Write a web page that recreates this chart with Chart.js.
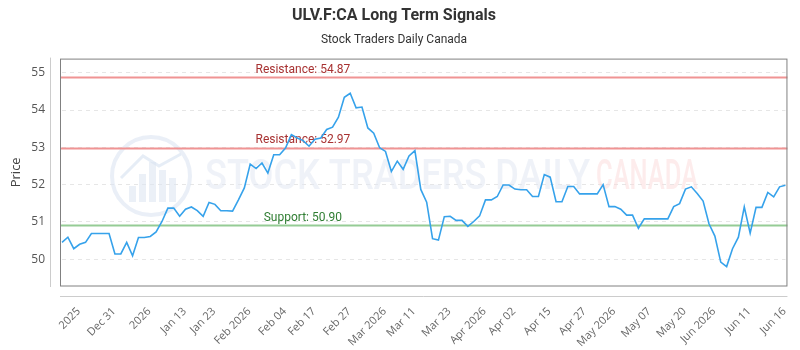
<!DOCTYPE html>
<html>
<head>
<meta charset="utf-8">
<script src="https://cdn.jsdelivr.net/npm/chart.js@4.4.1/dist/chart.umd.min.js"></script>
<style>
  html, body { margin: 0; padding: 0; background: #ffffff; }
  #box { width: 800px; height: 350px; }
</style>
</head>
<body>
<div id="box"><canvas id="grafico"></canvas></div>
<script>
// Prix de clôture (ULV.F:CA)
const precos = [
  50.45, 50.59, 50.28, 50.40, 50.45, 50.69, 50.69, 50.69, 50.69, 50.14,
  50.14, 50.45, 50.09, 50.58, 50.58, 50.61, 50.73, 51.01, 51.37, 51.37,
  51.15, 51.34, 51.40, 51.30, 51.15, 51.52, 51.47, 51.30, 51.30, 51.29,
  51.59, 51.91, 52.55, 52.43, 52.58, 52.31, 52.80, 52.80, 52.98, 53.34,
  53.25, 53.18, 53.03, 53.22, 53.25, 53.48, 53.54, 53.81, 54.34, 54.45,
  54.06, 54.08, 53.52, 53.38, 52.99, 52.89, 52.35, 52.63, 52.41, 52.77,
  52.91, 51.87, 51.53, 50.55, 50.51, 51.14, 51.15, 51.04, 51.04, 50.88,
  51.01, 51.16, 51.59, 51.59, 51.68, 51.99, 51.99, 51.88, 51.86, 51.86,
  51.68, 51.68, 52.27, 52.20, 51.54, 51.54, 51.95, 51.95, 51.75, 51.75,
  51.75, 51.75, 52.00, 51.41, 51.41, 51.34, 51.18, 51.18, 50.83, 51.08,
  51.08, 51.08, 51.08, 51.08, 51.41, 51.49, 51.88, 51.94, 51.76, 51.56,
  50.95, 50.62, 49.92, 49.80, 50.28, 50.59, 51.40, 50.70, 51.39, 51.39,
  51.79, 51.67, 51.94, 51.98
];

// Rótulos do eixo X e o ponto a que cada um pertence
const rotulosX = ["2025", "Dec 31", "2026", "Jan 13", "Jan 23", "Feb 2026", "Feb 04", "Feb 17",
  "Feb 27", "Mar 2026", "Mar 11", "Mar 23", "Apr 2026", "Apr 02", "Apr 15", "Apr 27",
  "May 2026", "May 07", "May 20", "Jun 2026", "Jun 11", "Jun 16"];
const pontosX = [2, 8, 14, 20, 25, 31, 37, 42, 48, 54, 59, 65, 71, 76, 82, 88, 93, 99, 105, 110, 116, 122];

// Eixo Y
const ticksY = [50, 51, 52, 53, 54, 55];
const minY = 49.28;
const maxY = 55.38;

// Níveis de suporte / resistência
const niveis = [54.87, 52.97, 50.90];
const nomesNiveis = ["Resistance", "Resistance", "Support"];

// Categorias: uma por ponto, com o rótulo onde existe um
const categorias = precos.map(() => "");
pontosX.forEach((p, i) => { categorias[p] = rotulosX[i]; });

const corNivel = (nome) => nome === "Support"
  ? { linha: "#95cc95", texto: "#2f7d32" }
  : { linha: "#f09494", texto: "#a83232" };

// Marca d'água + caixa do gráfico
const fundoPlugin = {
  id: "fundo",
  beforeDatasetsDraw(chart) {
    const { ctx, chartArea: a } = chart;
    ctx.save();
    // logo
    const cx = 151, cy = 176, r = 39;
    ctx.strokeStyle = "rgba(220,229,242,0.6)";
    ctx.lineWidth = 4;
    ctx.beginPath(); ctx.arc(cx, cy, r, 0, Math.PI * 2); ctx.stroke();
    ctx.fillStyle = "rgba(222,230,242,0.6)";
    [[-22, 10], [-12, -2], [-2, -14], [8, -6], [18, 2]].forEach(([dx, h]) => {
      ctx.fillRect(cx + dx, cy + h, 7, 26 - h);
    });
    ctx.strokeStyle = "rgba(220,229,242,0.7)";
    ctx.lineWidth = 3;
    ctx.beginPath();
    ctx.moveTo(cx - 30, cy + 2); ctx.lineTo(cx - 8, cy - 20); ctx.lineTo(cx + 8, cy - 10); ctx.lineTo(cx + 30, cy - 22);
    ctx.stroke();
    // texto
    ctx.font = "500 42px Roboto";
    ctx.textBaseline = "middle";
    const t1 = "STOCK TRADERS DAILY", t2 = "CANADA";
    const w1 = ctx.measureText(t1).width, w2 = ctx.measureText(t2).width;
    ctx.save();
    ctx.translate(205, 178); ctx.scale(385 / w1, 1);
    ctx.fillStyle = "rgba(225,232,243,0.55)";
    ctx.fillText(t1, 0, 0);
    ctx.restore();
    ctx.save();
    ctx.translate(596, 178); ctx.scale(102 / w2, 1);
    ctx.fillStyle = "rgba(252,218,218,0.5)";
    ctx.fillText(t2, 0, 0);
    ctx.restore();

    // linhas de suporte / resistência
    const y = chart.scales.y;
    niveis.forEach((v, i) => {
      const py = y.getPixelForValue(v);
      const c = corNivel(nomesNiveis[i]);
      ctx.strokeStyle = c.linha;
      ctx.lineWidth = 2;
      ctx.beginPath(); ctx.moveTo(a.left - 2, py); ctx.lineTo(a.right + 2, py); ctx.stroke();
      ctx.fillStyle = c.texto;
      ctx.font = "12px Roboto";
      ctx.textAlign = "center";
      ctx.textBaseline = "bottom";
      ctx.fillText(nomesNiveis[i] + ": " + v.toFixed(2), a.left + a.width * 0.333, py - 2);
    });

    // caixa e linhas dos eixos
    ctx.strokeStyle = "#808080";
    ctx.lineWidth = 1;
    ctx.strokeRect(a.left - 1.5, a.top + 0.5, a.width + 3, a.bottom - a.top - 0.5);
    ctx.strokeStyle = "#cccccc";
    ctx.beginPath();
    ctx.moveTo(a.left - 11.5, a.top - 1); ctx.lineTo(a.left - 11.5, a.bottom + 1);
    ctx.moveTo(a.left - 2, a.bottom + 10.5); ctx.lineTo(a.right + 2, a.bottom + 10.5);
    ctx.stroke();
    ctx.restore();
  }
};

const config = {
  type: "line",
  data: {
    labels: categorias,
    datasets: [
      {
        label: "Price",
        data: precos,
        borderColor: "#36a2eb",
        borderWidth: 1.6,
        pointRadius: 0,
        tension: 0,
        fill: false,
      },
    ],
  },
  options: {
    responsive: true,
    maintainAspectRatio: false,
    animation: false,
    layout: { padding: { left: 0, right: 12, top: 0, bottom: 0 } },
    plugins: {
      legend: { display: false },
      tooltip: { enabled: false },
      title: {
        display: true,
        text: "ULV.F:CA Long Term Signals",
        color: "#333333",
        font: { family: "Roboto", size: 16, weight: "bold" },
        padding: { top: 6, bottom: 6 },
      },
      subtitle: {
        display: true,
        text: "Stock Traders Daily Canada",
        color: "#333333",
        font: { family: "Roboto", size: 12 },
        padding: { top: 2, bottom: 11 },
      },
    },
    scales: {
      x: {
        offset: false,
        grid: { display: false },
        border: { display: false },
        afterFit(scale) { scale.height = 64; },
        afterBuildTicks(scale) {
          scale.ticks = pontosX.map((p) => ({ value: p }));
        },
        ticks: {
          autoSkip: false,
          minRotation: 45,
          maxRotation: 45,
          padding: 11,
          labelOffset: 5,
          color: "#666666",
          font: { family: "Open Sans", size: 11 },
        },
      },
      y: {
        min: minY,
        max: maxY,
        afterFit(scale) { scale.width = 62; },
        afterBuildTicks(scale) {
          scale.ticks = ticksY.map((v) => ({ value: v }));
        },
        grid: { color: "#e6e6e6", drawTicks: false },
        border: { display: false, dash: [4, 4] },
        ticks: {
          padding: 17,
          color: "#555555",
          font: { family: "Open Sans", size: 12 },
        },
        title: {
          display: true,
          text: "Price",
          color: "#444444",
          font: { family: "Open Sans", size: 13 },
          padding: { top: 8, bottom: 0 },
        },
      },
    },
  },
  plugins: [fundoPlugin],
};

const ctx = document.getElementById("grafico").getContext("2d");
const grafico = new Chart(ctx, config);
</script>
</body>
</html>
